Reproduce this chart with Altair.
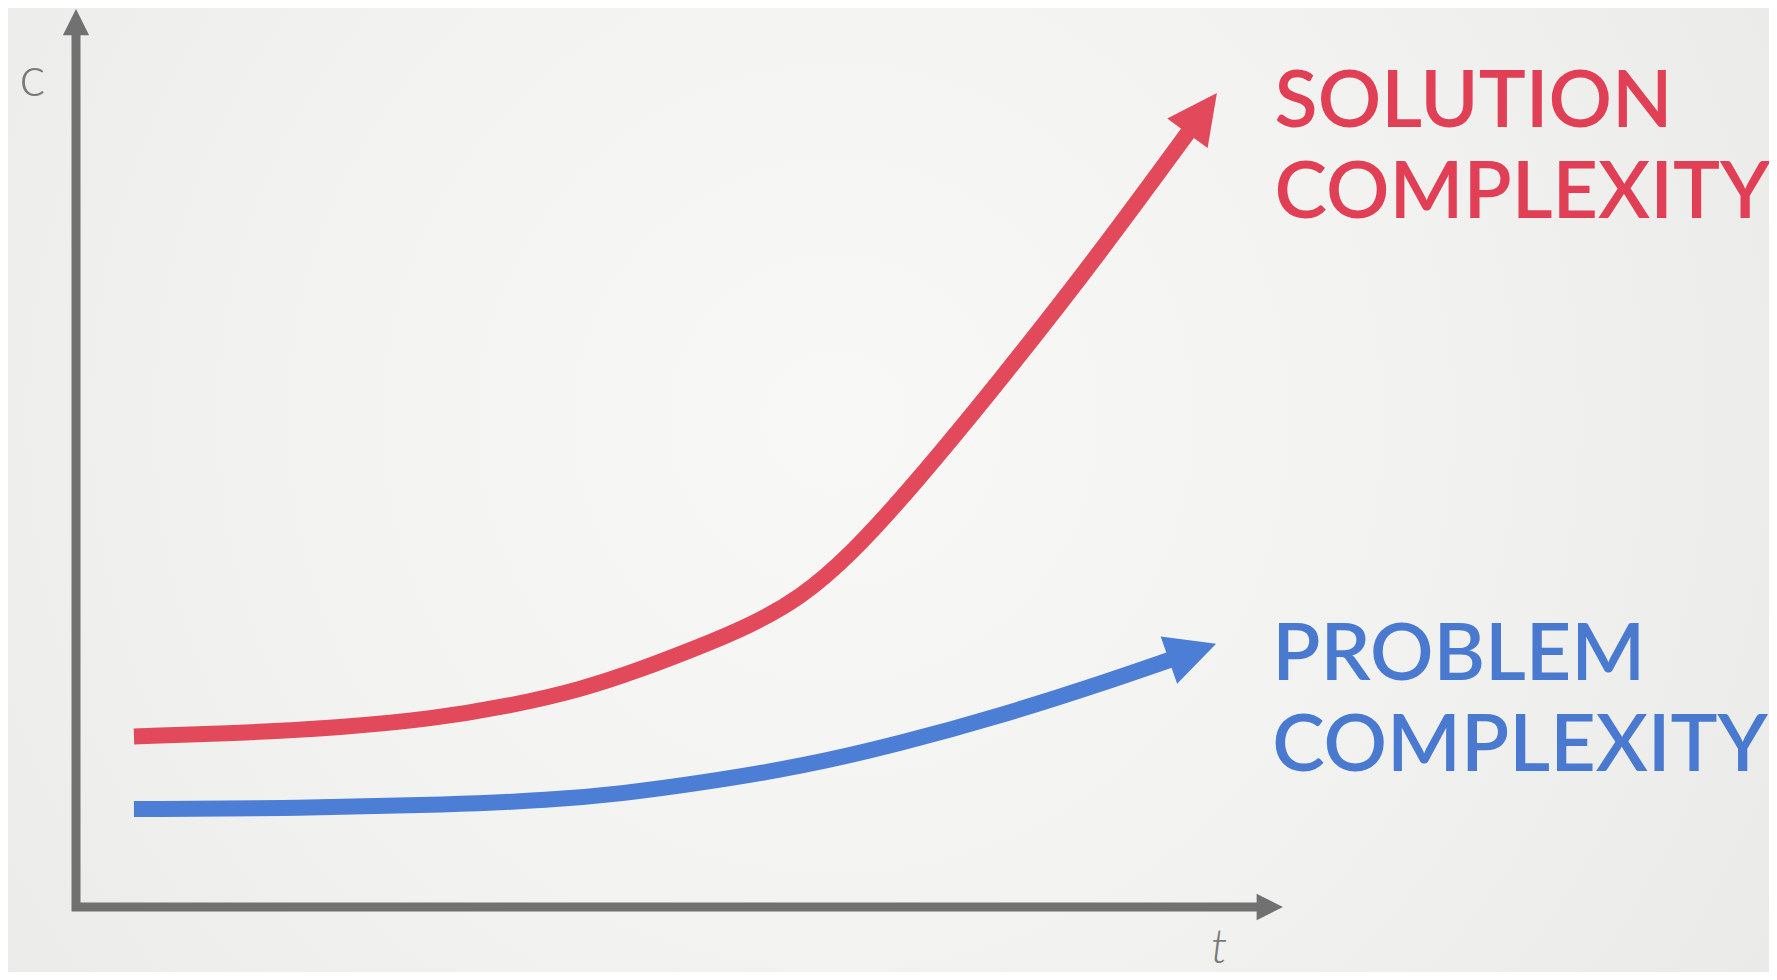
import math
import altair as alt
import pandas as pd

# ---- data (t = time, c = complexity) ----
solution_t = [0.48, 1.44, 2.19, 2.93, 3.60, 4.18, 4.67, 5.17, 5.58, 6.00, 6.41, 6.93, 7.66, 8.46, 9.33]
solution_c = [1.90, 1.94, 2.00, 2.09, 2.24, 2.42, 2.64, 2.90, 3.13, 3.44, 3.91, 4.68, 5.87, 7.24, 8.84]
problem_t = [0.48, 1.86, 3.10, 3.93, 4.51, 5.17, 6.00, 6.83, 7.66, 8.48, 9.25]
problem_c = [1.09, 1.10, 1.14, 1.19, 1.26, 1.38, 1.56, 1.82, 2.13, 2.48, 2.84]
series_names = ["solution", "problem"]
series_labels = [["SOLUTION", "COMPLEXITY"], ["PROBLEM", "COMPLEXITY"]]
axis_path_t = [0.0, 0.0, 9.89]
axis_path_c = [9.855, 0.0, 0.0]
axis_titles = ["c", "t"]

# ---- layout / style ----
W, H = 1761, 964
X_DOM = [-0.5634, 14.026]
Y_DOM = [-0.7238, 10.011]
PX_T = W / (X_DOM[1] - X_DOM[0])
PX_C = H / (Y_DOM[1] - Y_DOM[0])
COLORS = {"solution": "#E24A5B", "problem": "#4C7ED5"}
TEXT_COLORS = {"solution": "#E03F55", "problem": "#4A79D0"}
AXIS_COLOR = "#717171"
ARROW = "M0,-1L1,1L-1,1Z"
label_pos = {"solution": (9.93, 8.686), "problem": (9.91, 2.528)}
title_pos = {"c": (-0.36, 9.22), "t": (9.47, -0.62)}
title_base = {"c": "middle", "t": "alphabetic"}
title_size = {"c": 56, "t": 48}

xs = alt.Scale(domain=X_DOM, nice=False, zero=False)
ys = alt.Scale(domain=Y_DOM, nice=False, zero=False)

rows = []
for name, ts, cs in [("solution", solution_t, solution_c), ("problem", problem_t, problem_c)]:
    for i, (t, c) in enumerate(zip(ts, cs)):
        rows.append({"series": name, "t": t, "c": c, "i": i})
lines_df = pd.DataFrame(rows)

heads = []
for name, ts, cs in [("solution", solution_t, solution_c), ("problem", problem_t, problem_c)]:
    dx = (ts[-1] - ts[-2]) * PX_T
    dy = (cs[-1] - cs[-2]) * PX_C
    heads.append({"series": name, "t": ts[-1], "c": cs[-1],
                  "angle": (math.degrees(math.atan2(dx, dy)) + 360) % 360})
heads_df = pd.DataFrame(heads)

axis_df = pd.DataFrame({"t": axis_path_t, "c": axis_path_c, "i": list(range(len(axis_path_t)))})
axis_heads_df = pd.DataFrame({"t": [axis_path_t[0], axis_path_t[-1]],
                              "c": [axis_path_c[0], axis_path_c[-1]],
                              "angle": [0, 90]})

color_scale = alt.Scale(domain=list(COLORS.keys()), range=list(COLORS.values()))

backdrop = alt.Chart(pd.DataFrame({"k": [0]})).mark_rect(
    fill=alt.RadialGradient(
        gradient="radial",
        stops=[alt.GradientStop(color="#f8f8f6", offset=0),
               alt.GradientStop(color="#f2f2f0", offset=0.45),
               alt.GradientStop(color="#e7e7e5", offset=1)],
        x1=0.47, y1=0.46, r1=0, x2=0.47, y2=0.46, r2=0.72,
    ),
    strokeWidth=0,
).encode(x=alt.value(0), x2=alt.value(W), y=alt.value(0), y2=alt.value(H))

axis_line = alt.Chart(axis_df).mark_line(
    color=AXIS_COLOR, strokeWidth=9, strokeJoin="miter", strokeCap="butt"
).encode(
    x=alt.X("t:Q", scale=xs, axis=None),
    y=alt.Y("c:Q", scale=ys, axis=None),
    order="i:Q",
)

axis_heads = alt.Chart(axis_heads_df).mark_point(
    shape=ARROW, filled=True, size=690, color=AXIS_COLOR, opacity=1
).encode(
    x=alt.X("t:Q", scale=xs, axis=None),
    y=alt.Y("c:Q", scale=ys, axis=None),
    angle=alt.Angle("angle:Q", scale=None),
)

curves = alt.Chart(lines_df).mark_line(
    strokeWidth=16, strokeCap="butt", interpolate="basis"
).encode(
    x=alt.X("t:Q", scale=xs, axis=None),
    y=alt.Y("c:Q", scale=ys, axis=None),
    color=alt.Color("series:N", scale=color_scale, legend=None),
    detail="series:N",
    order="i:Q",
)

curve_heads = alt.Chart(heads_df).mark_point(
    shape=ARROW, filled=True, size=2500, opacity=1
).encode(
    x=alt.X("t:Q", scale=xs, axis=None),
    y=alt.Y("c:Q", scale=ys, axis=None),
    color=alt.Color("series:N", scale=color_scale, legend=None),
    angle=alt.Angle("angle:Q", scale=None),
)

layers = [backdrop, axis_line, axis_heads, curves, curve_heads]

for name, lines in zip(series_names, series_labels):
    lt, lc = label_pos[name]
    layers.append(
        alt.Chart(pd.DataFrame({"t": [lt], "c": [lc], "label": [lines]})).mark_text(
            align="left", baseline="alphabetic", font="Lato", fontSize=79,
            fontWeight=600, lineHeight=91, color=TEXT_COLORS[name]
        ).encode(
            x=alt.X("t:Q", scale=xs, axis=None),
            y=alt.Y("c:Q", scale=ys, axis=None),
            text="label:N",
        )
    )

for ttl in axis_titles:
    tt, tc = title_pos[ttl]
    layers.append(
        alt.Chart(pd.DataFrame({"t": [tt], "c": [tc], "label": [ttl]})).mark_text(
            align="center", baseline=title_base[ttl], font="Lato",
            fontSize=title_size[ttl], fontWeight=300,
            fontStyle="italic" if ttl == "t" else "normal",
            color="#7a7a7a"
        ).encode(
            x=alt.X("t:Q", scale=xs, axis=None),
            y=alt.Y("c:Q", scale=ys, axis=None),
            text="label:N",
        )
    )

chart = alt.layer(*layers).properties(
    width=W, height=H, padding=0, background="#e8e8e6",
    autosize=alt.AutoSizeParams(type="none"),
).configure_view(stroke=None)

chart.save("out.html", embed_options={"renderer": "svg", "actions": False})
